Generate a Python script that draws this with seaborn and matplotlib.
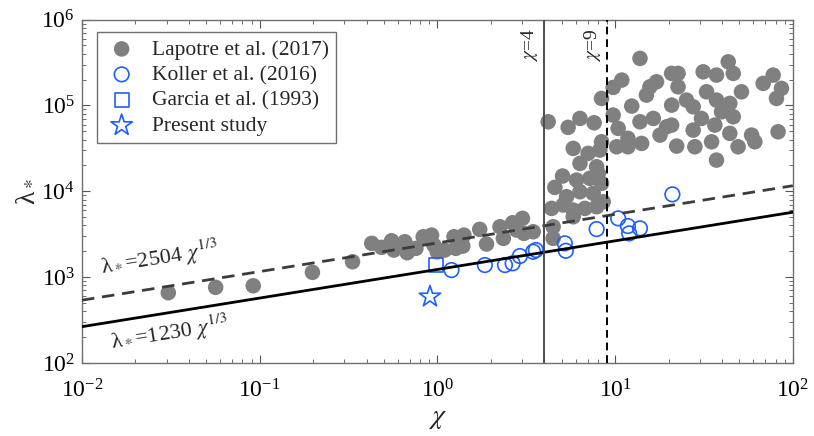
import numpy as np
import matplotlib
matplotlib.use("Agg")
import matplotlib.pyplot as plt
import seaborn as sns

# ---- data -----------------------------------------------------------------
lapotre_chi = [
    0.0306, 0.0565, 0.092, 0.198, 0.333, 0.427, 0.485, 0.552, 0.569, 0.656,
    0.676, 0.757, 0.832, 0.927, 0.955, 0.998, 1.10, 1.24, 1.27, 1.41,
    1.39, 1.73, 1.89, 2.25, 2.35, 2.65, 3.01, 3.07, 3.46, 2.79,
    4.48, 4.48, 4.39, 4.58, 5.06, 5.10, 5.33, 5.81, 5.81, 6.07,
    6.34, 6.34, 6.76, 7.05, 7.21, 7.53, 7.87, 7.87, 8.04, 8.39,
    8.57, 8.20, 8.39, 5.81, 4.20, 5.44, 6.34, 7.62, 8.39,
    9.75, 10.9, 13.8, 9.75, 10.4, 10.2, 11.8, 11.8, 12.4, 13.8,
    14.1, 15.0, 15.7, 17.1, 16.4, 17.9, 19.5, 20.8, 22.6, 22.6,
    20.8, 25.2, 27.5, 20.8, 22.2, 27.5, 28.1, 30.6, 31.3, 32.7,
    37.2, 34.9, 36.4, 37.2, 39.7, 37.2, 43.3, 46.2, 44.2, 46.2,
    44.2, 49.2, 51.4, 58.6, 61.1, 68.1, 77.5, 86.3, 80.9, 82.6,
]
lapotre_lambda = [
    659, 761, 794, 1138, 1513, 2477, 2225, 2655, 2070, 2585,
    1925, 2165, 2955, 3090, 2365, 1977, 2070, 2955, 2165, 3090,
    2302, 3605, 2432, 3865, 2830, 4305, 4842, 3236, 3381, 3540,
    2830, 3865, 6325, 11120, 15070, 6920, 8650, 6050, 5055, 13520,
    9885, 21140, 6325, 27670, 14160, 9460, 19320, 6610, 16180, 12380,
    7550, 30200, 37760, 31620, 64570, 55590, 70630, 62810, 120800,
    162300, 197600, 353300, 77270, 54080, 33030, 33030, 41400, 98400, 64570,
    36140, 132100, 165100, 188700, 70630, 45190, 56490, 236400, 236400, 165100,
    100900, 115500, 96500, 59090, 33650, 51650, 33030, 70630, 246600, 144300,
    225800, 37760, 59090, 23110, 84380, 115500, 322600, 236400, 105700, 73830,
    47300, 33030, 144300, 45190, 37760, 180700, 225800, 158100, 120800, 49370,
]

koller_chi = [1.20, 1.85, 2.40, 2.65, 2.91, 3.46, 3.58, 5.21, 5.28, 7.87,
              10.4, 11.8, 12.0, 13.8, 21.0]
koller_lambda = [1210, 1384, 1384, 1449, 1762, 1977, 2070, 2477, 2030, 3630,
                 4840, 3940, 3236, 3705, 9210]

garcia_chi = [0.986]
garcia_lambda = [1384]

present_chi = [0.908]
present_lambda = [592]

# power-law fits  lambda_* = C * chi^(1/3)
fit_lower_coef = 1230
fit_upper_coef = 2504
fit_exponent = 1 / 3
fit_chi = np.array([1e-2, 1e2])

chi_thresholds = [4, 9]

# ---- style ----------------------------------------------------------------
sns.set_style("ticks")
plt.rcParams["font.family"] = ["Liberation Serif", "DejaVu Serif"]
plt.rcParams["mathtext.fontset"] = "stix"

grey = "#808080"
blue = "#1f5fff"

fig, ax = plt.subplots(figsize=(8.14, 4.36), dpi=100)
fig.subplots_adjust(left=0.1007, right=0.974, bottom=0.1674, top=0.955)
ax.set_xscale("log")
ax.set_yscale("log")

sns.scatterplot(x=lapotre_chi, y=lapotre_lambda, ax=ax, color=grey, s=125,
                edgecolor="none", linewidth=0, zorder=2,
                label="Lapotre et al. (2017)")
sns.scatterplot(x=koller_chi, y=koller_lambda, ax=ax, color=blue, s=110,
                marker="o", zorder=3, label="Koller et al. (2016)")
sns.scatterplot(x=garcia_chi, y=garcia_lambda, ax=ax, color=blue, s=100,
                marker="s", zorder=3, label="Garcia et al. (1993)")
sns.scatterplot(x=present_chi, y=present_lambda, ax=ax, color=blue, s=260,
                marker="*", zorder=3, label="Present study")

# open markers for the blue series
for coll in ax.collections[1:]:
    coll.set_facecolor("none")
    coll.set_edgecolor(blue)
    coll.set_linewidth(1.2)

# fit lines
sns.lineplot(x=fit_chi, y=fit_lower_coef * fit_chi ** fit_exponent, ax=ax,
             color="black", lw=2.0, zorder=4)
sns.lineplot(x=fit_chi, y=fit_upper_coef * fit_chi ** fit_exponent, ax=ax,
             color="#3c3c3c", lw=2.0, zorder=4, dashes=False)
ax.lines[-1].set_dashes((4.5, 2.8))

# regime boundaries
ax.axvline(chi_thresholds[0], color="#4d4d4d", lw=1.4, zorder=4)
ax.axvline(chi_thresholds[1], color="black", lw=1.4, zorder=4,
           dashes=(4, 2.5))

ax.text(3.31, 5.05e5, r"$\chi$=4", rotation=90, ha="center", va="center",
        fontsize=14)
ax.text(7.5, 5.05e5, r"$\chi$=9", rotation=90, ha="center", va="center",
        fontsize=14)

ax.text(0.0275, 1670, r"λ$_*$=2504 $\chi^{1/3}$", rotation=9,
        ha="center", va="center", fontsize=16)
ax.text(0.0313, 223, r"λ$_*$=1230 $\chi^{1/3}$", rotation=9,
        ha="center", va="center", fontsize=16)

ax.set_xlim(1e-2, 1e2)
ax.set_ylim(1e2, 1e6)
ax.set_xlabel(r"$\chi$", fontsize=20, labelpad=2)
ax.set_ylabel("λ$_*$", fontsize=20, labelpad=2)

ax.tick_params(which="both", direction="in", top=True, right=True,
               colors="#555555", labelcolor="black")
ax.tick_params(which="major", length=6, width=0.8, labelsize=17)
ax.tick_params(which="minor", length=3, width=0.6)
ax.tick_params(axis="x", which="major", pad=12)
ax.tick_params(axis="y", which="major", pad=5)
for sp in ax.spines.values():
    sp.set_color("#707070")
    sp.set_linewidth(1.0)

leg = ax.legend(loc="upper left", bbox_to_anchor=(0.021, 0.964),
                borderaxespad=0, fontsize=15.5, frameon=True, fancybox=False,
                edgecolor="#707070", framealpha=1, labelspacing=0.25,
                handlelength=1.6, handletextpad=0.6, borderpad=0.35)
leg.get_frame().set_linewidth(1.0)

fig.savefig("out.png", dpi=100)
